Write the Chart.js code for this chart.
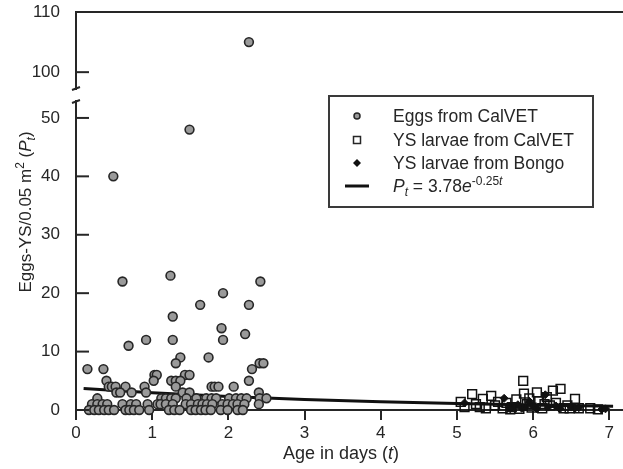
<!DOCTYPE html>
<html>
<head>
<meta charset="utf-8">
<script src="https://cdn.jsdelivr.net/npm/chart.js@4.4.1/dist/chart.umd.min.js"></script>
<style>
  html, body { margin: 0; padding: 0; background: #fff; }
  #wrap { width: 623px; height: 469px; }
</style>
</head>
<body>
<div id="wrap"><canvas id="myChart" width="623" height="469"></canvas></div>
<script>
// values (age in days, eggs-YS per 0.05 m2)
const eggAge = [
  0.49, 1.49, 2.27,
  0.61, 1.24, 1.63, 1.93, 2.27, 2.42,
  0.15, 0.36, 0.40, 0.69, 0.92, 1.27, 1.27, 1.91, 1.93, 2.22, 1.37, 1.31, 1.74, 2.31, 2.27, 2.41, 2.46,
  1.03, 1.06, 1.02, 1.43, 1.49, 1.25, 1.31, 1.37, 1.31, 1.78, 1.82, 1.87, 2.07, 0.43, 0.47, 0.52, 0.65, 0.90,
  0.53, 0.73, 0.92, 1.40, 1.49, 2.40, 0.58, 0.28,
  1.12, 1.18, 1.25, 1.31, 1.45, 1.58, 1.71, 1.78, 1.84, 2.01, 2.10, 2.17, 2.24, 2.41, 2.50,
  0.21, 0.28, 0.35, 0.41, 0.61, 0.72, 0.79, 0.94, 1.07, 1.11, 1.18, 1.27, 1.44, 1.51, 1.60, 1.66, 1.72, 1.79, 1.92, 1.99, 2.06, 2.12, 2.21, 2.40,
  0.17, 0.24, 0.30, 0.37, 0.43, 0.50, 0.65, 0.70, 0.76, 0.83, 0.96, 1.22, 1.29, 1.36, 1.51, 1.57, 1.64, 1.70, 1.77, 1.90, 1.99, 2.12, 2.19
];
const eggCount = [
  40, 48, 105,
  22, 23, 18, 20, 18, 22,
  7, 7, 5, 11, 12, 16, 12, 14, 12, 13, 9, 8, 9, 7, 5, 8, 8,
  6, 6, 5, 6, 6, 5, 5, 5, 4, 4, 4, 4, 4, 4, 4, 4, 4, 4,
  3, 3, 3, 3, 3, 3, 3, 2,
  2, 2, 2, 2, 2, 2, 2, 2, 2, 2, 2, 2, 2, 2, 2,
  1, 1, 1, 1, 1, 1, 1, 1, 1, 1, 1, 1, 1, 1, 1, 1, 1, 1, 1, 1, 1, 1, 1, 1,
  0, 0, 0, 0, 0, 0, 0, 0, 0, 0, 0, 0, 0, 0, 0, 0, 0, 0, 0, 0, 0, 0, 0
];
const ysAge = [5.05, 5.10, 5.20, 5.25, 5.34, 5.38, 5.45, 5.50, 5.54, 5.60, 5.65, 5.72, 5.78, 5.82, 5.87, 5.88, 5.92, 5.98,
  6.05, 6.08, 6.12, 6.18, 6.22, 6.26, 6.30, 6.36, 6.40, 6.48, 6.55, 6.60, 6.75, 6.85, 5.70, 5.95, 6.15, 5.30, 6.45];
const ysCount = [1.4, 0.5, 2.7, 1.0, 1.9, 0.3, 2.4, 0.8, 1.4, 0.3, 1.2, 0.5, 1.8, 0.2, 5.0, 2.8, 1.0, 0.4,
  3.0, 1.5, 0.3, 2.2, 0.8, 3.3, 1.2, 3.6, 0.3, 0.3, 1.9, 0.3, 0.3, 0.1, 0.1, 2.0, 1.0, 0.5, 0.8];
const bongoAge = [5.10, 5.62, 5.75, 5.80, 5.85, 5.90, 6.00, 6.05, 6.16, 6.20, 6.30, 6.35, 6.50, 6.55, 6.60, 6.90, 6.95, 5.70, 5.95];
const bongoCount = [1.2, 2.0, 0.6, 0.9, 0.3, 0.5, 0.7, 0.2, 2.6, 0.5, 0.7, 0.2, 0.5, 0.3, 0.4, 0.1, 0.2, 0.2, 1.5];
// fitted curve Pt = 3.78e^-0.25t
const fitAge = [0.1, 1, 2, 3, 4, 5, 6, 7.05];
const fitCount = [3.7, 2.95, 2.3, 1.8, 1.4, 1.1, 0.85, 0.65];

const xTicks = [0, 1, 2, 3, 4, 5, 6, 7];
const yTicksLow = [0, 10, 20, 30, 40, 50];
const yTicksHigh = [100, 110];

const FONT = "'Liberation Sans', Arial, sans-serif";
const INK = '#262626';

function pts(xs, ys, keep) {
  const out = [];
  xs.forEach((x, i) => { if (!keep || keep(ys[i])) out.push({x: x, y: ys[i]}); });
  return out;
}

// draws a run of [text, style] pieces, style: '' | 'i' | 'sup' | 'sub' (+ 'i')
function richText(ctx, parts, x, y, size, align) {
  const seg = parts.map(p => {
    const st = p[1] || '';
    const small = st.includes('sup') || st.includes('sub');
    const f = (st.includes('i') ? 'italic ' : '') + (small ? Math.round(size * 0.7) : size) + 'px ' + FONT;
    ctx.font = f;
    return {t: p[0], f: f, w: ctx.measureText(p[0]).width,
      dy: st.includes('sup') ? -size * 0.4 : (st.includes('sub') ? size * 0.25 : 0)};
  });
  const total = seg.reduce((a, s) => a + s.w, 0);
  let cx = align === 'center' ? x - total / 2 : x;
  ctx.textBaseline = 'alphabetic';
  ctx.textAlign = 'left';
  seg.forEach(s => { ctx.font = s.f; ctx.fillText(s.t, cx, y + s.dy); cx += s.w; });
}

const decor = {
  id: 'decor',
  afterDraw(chart) {
    const ctx = chart.ctx;
    const a = chart.chartArea;
    const low = chart.scales.y;
    const top = chart.scales.yTop;
    ctx.save();
    ctx.strokeStyle = INK;
    ctx.fillStyle = INK;
    ctx.lineWidth = 2;
    // frame top line
    ctx.beginPath();
    ctx.moveTo(a.left - 1, a.top);
    ctx.lineTo(a.right, a.top);
    ctx.stroke();
    // inward y ticks
    [[low, yTicksLow], [top, yTicksHigh]].forEach(([s, list]) => {
      list.forEach(v => {
        const py = s.getPixelForValue(v);
        ctx.beginPath();
        ctx.moveTo(s.right, py);
        ctx.lineTo(s.right + 13, py);
        ctx.stroke();
      });
    });
    // break marks
    ctx.beginPath();
    ctx.moveTo(low.right - 4, low.top + 2);
    ctx.lineTo(low.right + 4, low.top - 1);
    ctx.moveTo(top.right - 4, top.bottom + 1);
    ctx.lineTo(top.right + 4, top.bottom - 2);
    ctx.stroke();

    // axis titles
    richText(ctx, [['Age in days (', ''], ['t', 'i'], [')', '']], 341, 459, 18, 'center');
    ctx.save();
    ctx.translate(31, 212);
    ctx.rotate(-Math.PI / 2);
    richText(ctx, [['Eggs-YS/0.05 m', ''], ['2', 'sup'], [' (', ''], ['P', 'i'], ['t', 'isub'], [')', '']], 0, 0, 17, 'center');
    ctx.restore();

    // legend
    const bx = 329, by = 96, bw = 264, bh = 111;
    ctx.lineWidth = 2;
    ctx.strokeStyle = '#3a3a3a';
    ctx.strokeRect(bx, by, bw, bh);
    const mx = 357, tx = 393;
    const rows = [116, 140, 163, 186];
    // marker: egg
    ctx.beginPath();
    ctx.arc(mx, rows[0], 3, 0, Math.PI * 2);
    ctx.fillStyle = '#9a9a9a';
    ctx.fill();
    ctx.lineWidth = 1.5;
    ctx.strokeStyle = INK;
    ctx.stroke();
    // marker: square
    ctx.fillStyle = '#fff';
    ctx.fillRect(mx - 3.5, rows[1] - 3.5, 7, 7);
    ctx.strokeRect(mx - 3.5, rows[1] - 3.5, 7, 7);
    // marker: diamond
    ctx.fillStyle = '#111';
    ctx.beginPath();
    ctx.moveTo(mx, rows[2] - 4);
    ctx.lineTo(mx + 4, rows[2]);
    ctx.lineTo(mx, rows[2] + 4);
    ctx.lineTo(mx - 4, rows[2]);
    ctx.closePath();
    ctx.fill();
    // marker: line
    ctx.lineWidth = 3;
    ctx.strokeStyle = '#111';
    ctx.beginPath();
    ctx.moveTo(mx - 12, rows[3]);
    ctx.lineTo(mx + 12, rows[3]);
    ctx.stroke();

    ctx.fillStyle = INK;
    richText(ctx, [['Eggs from CalVET', '']], tx, rows[0] + 6, 17.5);
    richText(ctx, [['YS larvae from CalVET', '']], tx, rows[1] + 6, 17.5);
    richText(ctx, [['YS larvae from Bongo', '']], tx, rows[2] + 6, 17.5);
    richText(ctx, [['P', 'i'], ['t', 'isub'], [' = 3.78', ''], ['e', 'i'], ['-0.25', 'sup'], ['t', 'isup']], tx, rows[3] + 6, 17.5);
    ctx.restore();
  }
};

document.addEventListener('DOMContentLoaded', function () {
  const ctx = document.getElementById('myChart').getContext('2d');
  const eggStyle = {
    backgroundColor: '#9a9a9a',
    borderColor: INK,
    borderWidth: 1.6,
    pointRadius: 4.4,
    pointHoverRadius: 4.4,
    clip: false
  };
  const tickFont = { family: FONT, size: 17 };
  new Chart(ctx, {
    type: 'scatter',
    data: {
      datasets: [
        Object.assign({label: 'Eggs from CalVET', data: pts(eggAge, eggCount, v => v < 60), yAxisID: 'y'}, eggStyle),
        Object.assign({label: 'Eggs (upper)', data: pts(eggAge, eggCount, v => v >= 60), yAxisID: 'yTop'}, eggStyle),
        {
          label: 'YS larvae from CalVET',
          data: pts(ysAge, ysCount),
          yAxisID: 'y',
          pointStyle: 'rect',
          pointRadius: 6.2,
          backgroundColor: 'rgba(255,255,255,0)',
          borderColor: '#111',
          borderWidth: 1.5,
          clip: false
        },
        {
          label: 'YS larvae from Bongo',
          data: pts(bongoAge, bongoCount),
          yAxisID: 'y',
          pointStyle: 'rectRot',
          pointRadius: 4,
          backgroundColor: '#111',
          borderColor: '#111',
          borderWidth: 1,
          clip: false
        },
        {
          label: 'fit',
          data: pts(fitAge, fitCount),
          yAxisID: 'y',
          showLine: true,
          pointRadius: 0,
          borderColor: '#111',
          borderWidth: 3,
          clip: false
        }
      ]
    },
    options: {
      responsive: false,
      animation: false,
      layout: { autoPadding: false, padding: { top: 12, right: 0, left: 0, bottom: 0 } },
      plugins: { legend: { display: false }, tooltip: { enabled: false } },
      scales: {
        x: {
          type: 'linear',
          min: 0,
          max: 7.18,
          afterBuildTicks: s => { s.ticks = xTicks.map(v => ({value: v})); },
          afterFit: s => { s.height = 59; s.paddingLeft = 0; s.paddingRight = 0; },
          border: { display: true, color: INK, width: 2 },
          grid: { display: true, drawOnChartArea: false, drawTicks: true, tickLength: 10, color: INK, lineWidth: 2 },
          ticks: { color: INK, font: tickFont, padding: 3, maxRotation: 0 }
        },
        // stacked left axes: last defined ends up on top
        y: {
          type: 'linear',
          position: 'left',
          stack: 'ybreak',
          stackWeight: 309,
          min: 0,
          max: 52.9,
          afterBuildTicks: s => { s.ticks = yTicksLow.map(v => ({value: v})); },
          afterFit: s => { s.width = 76; s.paddingTop = 0; s.paddingBottom = 0; },
          border: { display: true, color: INK, width: 2 },
          grid: { display: false },
          ticks: { color: INK, font: tickFont, padding: 8 }
        },
        yGap: {
          type: 'linear',
          position: 'left',
          stack: 'ybreak',
          stackWeight: 12,
          min: 0,
          max: 1,
          afterFit: s => { s.width = 76; s.paddingTop = 0; s.paddingBottom = 0; },
          border: { display: false },
          grid: { display: false },
          ticks: { display: false }
        },
        yTop: {
          type: 'linear',
          position: 'left',
          stack: 'ybreak',
          stackWeight: 77,
          min: 97.2,
          max: 110,
          afterBuildTicks: s => { s.ticks = yTicksHigh.map(v => ({value: v})); },
          afterFit: s => { s.width = 76; s.paddingTop = 0; s.paddingBottom = 0; },
          border: { display: true, color: INK, width: 2 },
          grid: { display: false },
          ticks: { color: INK, font: tickFont, padding: 8 }
        }
      }
    },
    plugins: [decor]
  });
});
</script>
</body>
</html>
